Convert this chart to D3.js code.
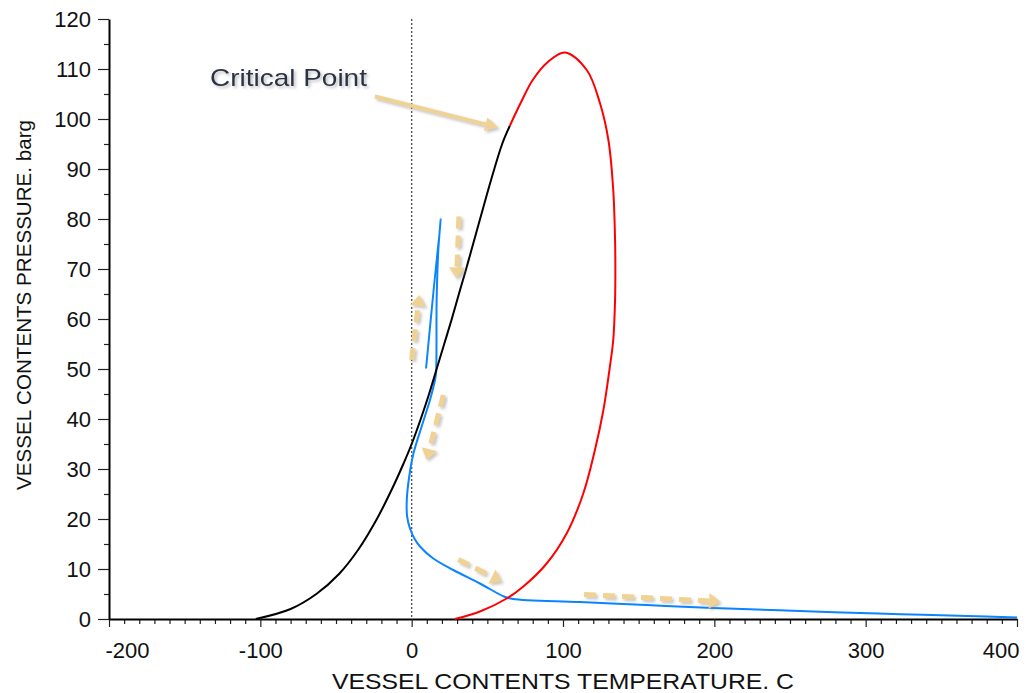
<!DOCTYPE html>
<html>
<head>
<meta charset="utf-8">
<script src="https://cdn.jsdelivr.net/npm/d3@7"></script>
<style>
  body { margin: 0; background: #fff; }
  svg { display: block; font-family: "Liberation Sans", Arial, sans-serif; }
</style>
</head>
<body>
<svg id="chart"></svg>
<script>
// blue: vessel contents path
const blueTemp = [9.5, 19.2, 17.6, 16.5, 16.1, 15.4, 12.1, 6.6, 1.1, -1.6, -3.2, -3.0, -1.0, 2.0, 5.5, 14.3, 27.5, 45.1, 61.0, 67.0, 111, 155, 199, 243, 279, 323, 367, 400];
const bluePres = [50.1, 80.1, 73.8, 63.8, 49.2, 47.8, 43.8, 38.5, 33.0, 28.5, 24.0, 20.5, 18.0, 16.0, 14.5, 12.1, 9.8, 7.1, 4.5, 4.0, 3.4, 2.8, 2.2, 1.75, 1.35, 0.95, 0.6, 0.3];

// black: bubble line up to the critical point
const blackTemp = [-103, -80, -63, -48, -35, -23, -13, -5.5, 0, 6, 11.5, 16.5, 21.5, 26.5, 31.2, 36, 40.6, 45.2, 49.8, 54.6, 59.8, 64.8];
const blackPres = [0, 2, 5, 9, 14, 20, 26, 31, 35, 40, 45, 50, 55, 60, 65, 70, 75, 80, 85, 90, 95, 98.6];

// red: dew line, from the bottom round to the critical point
const redTemp = [28.6, 45.1, 62.8, 73.8, 89.2, 102.4, 113.4, 121.1, 126.7, 131, 133.2, 134.4, 134.6, 134.4, 133.2, 130, 124.5, 115.7, 101.3, 90, 80, 72, 64.8];
const redPres = [0, 1.5, 4.1, 6.5, 11.1, 17.1, 25.1, 33.8, 41.8, 50.5, 55.8, 63.8, 70, 75.8, 85.8, 95.8, 103.1, 109.8, 113.3, 111.4, 107.8, 103.2, 98.6];

const xTicks = [-200, -100, 0, 100, 200, 300, 400];
const yTicks = [0, 10, 20, 30, 40, 50, 60, 70, 80, 90, 100, 110, 120];

// annotation arrows, in data units: [t0, p0, t1, p1]
const arrowCritical = [-24.3, 104.5, 57.2, 98.3];
const dashedArrows = [
  [31.2, 80.5, 29.7, 68.1],
  [0, 51.8, 5, 64.8],
  [20.9, 44.8, 9.9, 31.8],
  [30.8, 11.9, 59.5, 7.5],
  [113.9, 4.9, 203.8, 3.5]
];
const criticalLabel = { text: 'Critical Point', t: -133.3, p: 106.6 };

const width = 1026, height = 693;
const svg = d3.select('#chart').attr('width', width).attr('height', height);

const x = d3.scaleLinear().domain([-200, 400]).range([109, 1017]);
const y = d3.scaleLinear().domain([0, 120]).range([619, 19]);

const defs = svg.append('defs');
defs.append('filter').attr('id', 'shadow')
  .attr('x', '-20%').attr('y', '-20%').attr('width', '140%').attr('height', '140%')
  .append('feDropShadow')
  .attr('dx', 2).attr('dy', 2).attr('stdDeviation', 1.6)
  .attr('flood-color', '#888').attr('flood-opacity', 0.55);

// dotted zero line
svg.append('line')
  .attr('x1', x(0)).attr('x2', x(0))
  .attr('y1', y(120)).attr('y2', y(0))
  .attr('stroke', '#555').attr('stroke-width', 1.4)
  .attr('stroke-dasharray', '2,2');

// axes: minor ticks first, then majors with labels
const xMinor = d3.range(-200, 401, 10).filter(v => v % 100 !== 0);
const yMinor = d3.range(5, 120, 10);

svg.append('g')
  .attr('transform', `translate(0,${y(0)})`)
  .call(d3.axisBottom(x).tickValues(xMinor).tickSize(5).tickSizeOuter(0).tickFormat(''))
  .call(g => g.select('.domain').remove())
  .selectAll('line').attr('stroke', '#222').attr('stroke-width', 1.2);

svg.append('g')
  .attr('transform', `translate(${x(-200)},0)`)
  .call(d3.axisLeft(y).tickValues(yMinor).tickSize(5).tickSizeOuter(0).tickFormat(''))
  .call(g => g.select('.domain').remove())
  .selectAll('line').attr('stroke', '#222').attr('stroke-width', 1.2);

const xAxis = svg.append('g')
  .attr('transform', `translate(0,${y(0)})`)
  .call(d3.axisBottom(x).tickValues(xTicks).tickSize(8).tickSizeOuter(0).tickPadding(15)
    .tickFormat(d => String(d)));
xAxis.select('.domain').attr('stroke', '#000').attr('stroke-width', 2);
xAxis.selectAll('line').attr('stroke', '#222').attr('stroke-width', 1.2);
xAxis.selectAll('text')
  .attr('font-size', 22).attr('fill', '#111').attr('font-family', '"Liberation Sans", Arial, sans-serif');
xAxis.selectAll('text').filter(d => d === -200).attr('text-anchor', 'start').attr('dx', -4);
xAxis.selectAll('text').filter(d => d === 400).attr('text-anchor', 'end').attr('dx', 2);

const yAxis = svg.append('g')
  .attr('transform', `translate(${x(-200)},0)`)
  .call(d3.axisLeft(y).tickValues(yTicks).tickSize(11).tickSizeOuter(0).tickPadding(7));
yAxis.select('.domain').attr('stroke', '#000').attr('stroke-width', 2);
yAxis.selectAll('line').attr('stroke', '#222').attr('stroke-width', 1.2);
yAxis.selectAll('text')
  .attr('font-size', 22).attr('fill', '#111').attr('font-family', '"Liberation Sans", Arial, sans-serif');

// axis titles
svg.append('text')
  .attr('x', (x(-200) + x(400)) / 2).attr('y', 689)
  .attr('text-anchor', 'middle')
  .attr('font-size', 22).attr('fill', '#111')
  .attr('textLength', 462).attr('lengthAdjust', 'spacingAndGlyphs')
  .text('VESSEL CONTENTS TEMPERATURE. C');

svg.append('text')
  .attr('transform', 'translate(31,305) rotate(-90)')
  .attr('text-anchor', 'middle')
  .attr('font-size', 21).attr('fill', '#111')
  .attr('textLength', 370).attr('lengthAdjust', 'spacingAndGlyphs')
  .text('VESSEL CONTENTS PRESSURE. barg');

// curves
const line = d3.line()
  .x(d => x(d[0]))
  .y(d => y(d[1]))
  .curve(d3.curveCatmullRom.alpha(0.5));

const series = [
  { t: blueTemp, p: bluePres, color: '#0a84ff' },
  { t: blackTemp, p: blackPres, color: '#000' },
  { t: redTemp, p: redPres, color: '#ff0000' }
];

series.forEach(s => {
  svg.append('path')
    .datum(s.t.map((t, i) => [t, s.p[i]]))
    .attr('d', line)
    .attr('fill', 'none')
    .attr('stroke', s.color)
    .attr('stroke-width', 2);
});

// annotation arrows
const arrowColor = '#eecf8c';
function drawArrow(a, dashed) {
  const x0 = x(a[0]), y0 = y(a[1]), x1 = x(a[2]), y1 = y(a[3]);
  const ang = Math.atan2(y1 - y0, x1 - x0);
  const headL = dashed ? 11 : 13, headW = dashed ? 8 : 7;
  const bx = x1 - headL * Math.cos(ang), by = y1 - headL * Math.sin(ang);
  const g = svg.append('g').attr('filter', 'url(#shadow)').attr('opacity', 0.92);
  g.append('line')
    .attr('x1', x0).attr('y1', y0).attr('x2', bx).attr('y2', by)
    .attr('stroke', arrowColor)
    .attr('stroke-width', dashed ? 5 : 4)
    .attr('stroke-dasharray', dashed ? '12,7' : null);
  const px = -Math.sin(ang) * headW, py = Math.cos(ang) * headW;
  g.append('polygon')
    .attr('points', [[x1, y1], [bx + px, by + py], [bx - px, by - py]].map(p => p.join(',')).join(' '))
    .attr('fill', arrowColor);
}

drawArrow(arrowCritical, false);
dashedArrows.forEach(a => drawArrow(a, true));

svg.append('text')
  .attr('x', x(criticalLabel.t)).attr('y', y(criticalLabel.p))
  .attr('font-size', 24).attr('fill', '#2b3245')
  .attr('textLength', 157).attr('lengthAdjust', 'spacingAndGlyphs')
  .attr('filter', 'url(#shadow)')
  .text(criticalLabel.text);
</script>
</body>
</html>
